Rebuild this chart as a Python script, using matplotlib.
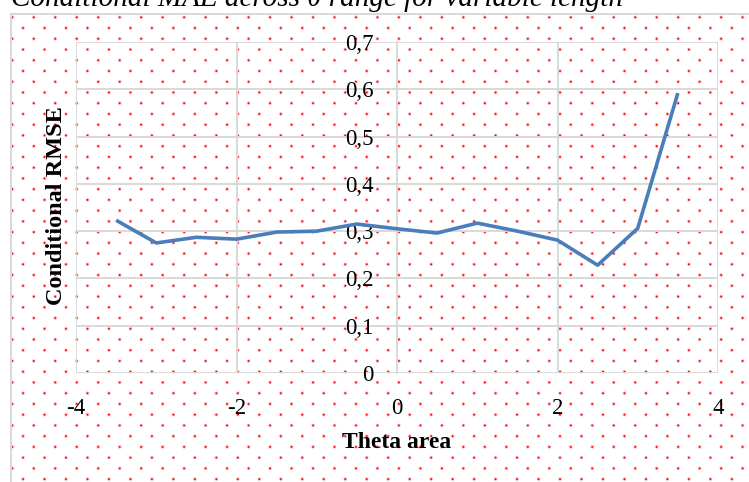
import numpy as np
import matplotlib
matplotlib.use("Agg")
import matplotlib.pyplot as plt
from matplotlib.lines import Line2D

# Data
theta = [-3.5, -3.0, -2.5, -2.0, -1.5, -1.0, -0.5, 0.0, 0.5, 1.0, 1.5, 2.0, 2.5, 3.0, 3.5]
rmse = [0.323, 0.275, 0.287, 0.283, 0.298, 0.300, 0.315, 0.305, 0.296, 0.317, 0.300,
        0.281, 0.228, 0.306, 0.592]
x_ticks = [-4, -2, 0, 2, 4]
y_ticks = [0, 0.1, 0.2, 0.3, 0.4, 0.5, 0.6, 0.7]
y_tick_labels = ["0", "0,1", "0,2", "0,3", "0,4", "0,5", "0,6", "0,7"]

W, H = 749, 482
plt.rcParams['font.family'] = ['Liberation Serif', 'DejaVu Serif']
plt.rcParams['axes.unicode_minus'] = False
grid_col = '#d9d9d9'

fig = plt.figure(figsize=(W / 100, H / 100), dpi=100)

# Dotted chart-area background (Excel pattern fill)
yy, xx = np.mgrid[0:H, 0:W].astype(float)
step = 10.74
u = (xx + 0.5 - 12.3) / step
v = (yy + 0.5 - 17.3) / step
# dots sit where i + j is even -> rotated lattice
a = (u + v) / 2
b = (u - v) / 2
da = (a - np.round(a)) * step
db = (b - np.round(b)) * step
d2 = ((da + db) ** 2 + (da - db) ** 2) / 2
alpha = np.clip(1.1 * np.exp(-d2 / (2 * 0.6 ** 2)), 0, 1)
alpha[(xx < 11) | (yy < 14)] = 0
img = np.zeros((H, W, 4))
img[..., 0] = 1.0
img[..., 3] = alpha
fig.figimage(img, xo=0, yo=0, origin='upper', zorder=-1)

# chart-area border
fig.add_artist(Line2D([10.5 / W, 10.5 / W], [0, 1 - 13.5 / H], color=grid_col, lw=1.5))
fig.add_artist(Line2D([10.5 / W, 1], [1 - 13.5 / H, 1 - 13.5 / H], color=grid_col, lw=1.5))

# title (cut at the top of the picture, as in the original)
fig.text(11 / W, 1 - 6 / H, "Conditional MAE across \u03b8 range for variable length",
         fontsize=21, style='italic', va='baseline', ha='left')

ax = fig.add_axes([76 / W, 1 - 373 / H, (718 - 76) / W, (373 - 42) / H])
ax.patch.set_alpha(0)
ax.plot(theta, rmse, color='#4a7ebb', lw=2.6, solid_capstyle='butt', zorder=3)

ax.set_xlim(-4, 4)
ax.set_ylim(0, 0.7)
ax.set_xticks(x_ticks)
ax.set_yticks(y_ticks)
ax.set_yticklabels(y_tick_labels)

for s in ['top', 'right', 'bottom']:
    ax.spines[s].set_visible(False)
ax.spines['left'].set_position(('data', 0))
ax.spines['left'].set_color(grid_col)
ax.spines['left'].set_linewidth(1.4)
ax.spines['left'].set_zorder(2)

for yv in y_ticks:
    ax.axhline(yv, color=grid_col, lw=1.4, zorder=1)
for xv in x_ticks:
    if xv != 0:
        ax.axvline(xv, color=grid_col, lw=1.4, zorder=1)

ax.tick_params(axis='both', length=0, labelsize=16.5)
ax.tick_params(axis='y', pad=17)
ax.tick_params(axis='x', pad=18)

fig.text(397 / W, 1 - 443 / H, "Theta area", fontsize=17, fontweight='bold',
         ha='center', va='center')
fig.text(57 / W, 1 - 206 / H, "Conditional RMSE", fontsize=17.5, fontweight='bold',
         ha='center', va='center', rotation=90)

fig.savefig("out.png", dpi=100)
